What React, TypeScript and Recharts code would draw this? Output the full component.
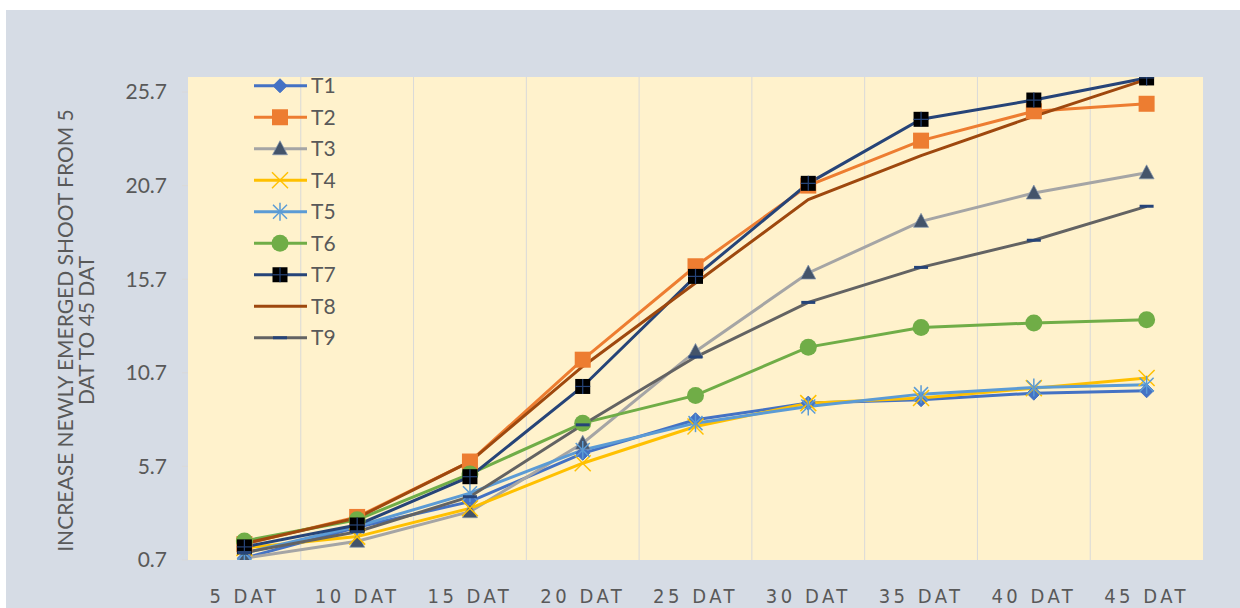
import React from "react";
import { LineChart, Line, XAxis, YAxis, CartesianGrid, Legend, ReferenceLine } from "recharts";

const days = [5, 10, 15, 20, 25, 30, 35, 40, 45];
const yTicks = [0.7, 5.7, 10.7, 15.7, 20.7, 25.7];

const t1 = [0.8, 2.45, 3.82, 6.4, 8.19, 9.08, 9.26, 9.61, 9.74];
const t2 = [1.55, 3.0, 5.96, 11.4, 16.39, 20.7, 23.1, 24.67, 25.07];
const t3 = [0.8, 1.7, 3.28, 6.94, 11.84, 16.03, 18.79, 20.3, 21.38];
const t4 = [1.34, 1.95, 3.46, 5.87, 7.83, 9.08, 9.35, 9.88, 10.42];
const t5 = [1.07, 2.5, 4.27, 6.58, 8.01, 8.9, 9.56, 9.91, 10.06];
const t6 = [1.72, 2.85, 5.3, 8.01, 9.49, 12.07, 13.12, 13.36, 13.53];
const t7 = [1.4, 2.57, 5.15, 9.97, 15.85, 20.82, 24.24, 25.27, 26.45];
const t8 = [1.58, 2.95, 5.95, 11.04, 15.5, 19.95, 22.3, 24.4, 26.37];
const t9 = [1.1, 2.21, 4.08, 7.92, 11.54, 14.46, 16.33, 17.78, 19.59];

const seriesList = [
  { key: "T1", values: t1, color: "#4472C4", marker: "diamond" },
  { key: "T2", values: t2, color: "#ED7D31", marker: "square" },
  { key: "T3", values: t3, color: "#A5A5A5", marker: "triangle" },
  { key: "T4", values: t4, color: "#FFC000", marker: "x" },
  { key: "T5", values: t5, color: "#5B9BD5", marker: "star" },
  { key: "T6", values: t6, color: "#70AD47", marker: "circle" },
  { key: "T7", values: t7, color: "#264478", marker: "blacksquare" },
  { key: "T8", values: t8, color: "#9E480E", marker: "none" },
  { key: "T9", values: t9, color: "#636363", marker: "dash" },
];

const data = days.map((day, i) => {
  const row: any = { day };
  seriesList.forEach((s) => (row[s.key] = s.values[i]));
  return row;
});

// grid lines sit between the categories, like excel's "between tick marks"
const gridDays = days.slice(1).map((d, i) => (d + days[i]) / 2);

function Marker({ kind, cx, cy, color }: { kind: string; cx: number; cy: number; color: string }) {
  switch (kind) {
    case "diamond":
      return <polygon points={`${cx},${cy - 7} ${cx + 7},${cy} ${cx},${cy + 7} ${cx - 7},${cy}`} fill={color} stroke={color} />;
    case "square":
      return <rect x={cx - 8} y={cy - 8} width={16} height={16} fill={color} />;
    case "triangle":
      return <polygon points={`${cx},${cy - 8} ${cx + 7.5},${cy + 6} ${cx - 7.5},${cy + 6}`} fill="#44546A" stroke="#8497B0" strokeWidth={0.7} />;
    case "x":
      return (
        <g stroke={color} strokeWidth={1.5}>
          <line x1={cx - 8} y1={cy - 8} x2={cx + 8} y2={cy + 8} />
          <line x1={cx - 8} y1={cy + 8} x2={cx + 8} y2={cy - 8} />
        </g>
      );
    case "star":
      return (
        <g stroke={color} strokeWidth={1.5}>
          <line x1={cx - 7} y1={cy - 7} x2={cx + 7} y2={cy + 7} />
          <line x1={cx - 7} y1={cy + 7} x2={cx + 7} y2={cy - 7} />
          <line x1={cx} y1={cy - 9} x2={cx} y2={cy + 9} />
        </g>
      );
    case "circle":
      return <circle cx={cx} cy={cy} r={8.5} fill={color} />;
    case "blacksquare":
      return (
        <g>
          <rect x={cx - 7.5} y={cy - 7.5} width={15} height={15} fill="#000" />
          <line x1={cx - 7.5} y1={cy} x2={cx + 7.5} y2={cy} stroke={color} strokeWidth={1.2} />
          <line x1={cx} y1={cy - 7.5} x2={cx} y2={cy + 7.5} stroke={color} strokeWidth={1.2} />
        </g>
      );
    case "dash":
      return <line x1={cx - 7} y1={cy} x2={cx + 7} y2={cy} stroke="#264478" strokeWidth={3} />;
    default:
      return null;
  }
}

function LegendBox() {
  const rowH = 31.5;
  return (
    <svg width={110} height={rowH * seriesList.length}>
      {seriesList.map((s, i) => {
        const cy = rowH * i + rowH / 2;
        return (
          <g key={s.key}>
            <line x1={0} y1={cy} x2={53} y2={cy} stroke={s.color} strokeWidth={3} />
            <Marker kind={s.marker} cx={26} cy={cy} color={s.color} />
            <text x={57} y={cy} dy="0.35em" fontSize={21} fill="#595959" fontFamily="Lato, sans-serif">
              {s.key}
            </text>
          </g>
        );
      })}
    </svg>
  );
}

function YLabel(props: any) {
  const { viewBox } = props;
  const cy = viewBox.y + viewBox.height / 2 + 12;
  const style = { fontSize: 21, fill: "#595959", fontFamily: "Lato, sans-serif" };
  return (
    <g>
      <text x={60} y={cy} transform={`rotate(-90 60 ${cy})`} textAnchor="middle" dy="0.35em" {...style}>
        INCREASE NEWLY EMERGED SHOOT FROM 5
      </text>
      <text x={81} y={cy} transform={`rotate(-90 81 ${cy})`} textAnchor="middle" dy="0.35em" {...style}>
        DAT TO 45 DAT
      </text>
    </g>
  );
}

export default function App() {
  return (
    <div style={{ position: "absolute", left: 6, top: 10, width: 1234, height: 598, background: "#D6DCE5" }}>
      <LineChart width={1234} height={598} data={data} margin={{ top: 67, right: 37, bottom: 0, left: 0 }}>
        <CartesianGrid fill="#FFF2CC" fillOpacity={1} horizontal={false} vertical={false} />
        {gridDays.map((g) => (
          <ReferenceLine key={g} x={g} stroke="#D9D9D9" strokeWidth={1} />
        ))}
        <XAxis
          type="number"
          dataKey="day"
          domain={[2.5, 47.5]}
          ticks={days}
          interval={0}
          tickFormatter={(d) => `${d} DAT`}
          axisLine={false}
          tickLine={false}
          tickSize={0}
          tickMargin={29}
          height={48}
          tick={{ fontSize: 20, fill: "#595959", letterSpacing: 3.5, fontFamily: "'Liberation Sans Narrow', 'DejaVu Sans Condensed', sans-serif" }}
        />
        <YAxis
          type="number"
          domain={[0.7, 26.5]}
          allowDataOverflow
          ticks={yTicks}
          interval={0}
          tickFormatter={(v) => v.toFixed(1)}
          axisLine={false}
          tickLine={{ stroke: "#D9D9D9" }}
          tickSize={6}
          tickMargin={15}
          width={182}
          tick={{ fontSize: 21, fill: "#595959", fontFamily: "Lato, sans-serif" }}
          label={{ content: (p: any) => <YLabel {...p} /> }}
        />
        <Legend
          layout="horizontal"
          verticalAlign="middle"
          align="center"
          content={() => <LegendBox />}
          wrapperStyle={{ position: "absolute", left: 248, top: 60, width: 110 }}
        />
        {seriesList.map((s) => (
          <Line
            key={s.key}
            dataKey={s.key}
            stroke={s.color}
            strokeWidth={3}
            isAnimationActive={false}
            activeDot={false}
            dot={(p: any) => <Marker key={`${s.key}-${p.index}`} kind={s.marker} cx={p.cx} cy={p.cy} color={s.color} />}
          />
        ))}
      </LineChart>
    </div>
  );
}
